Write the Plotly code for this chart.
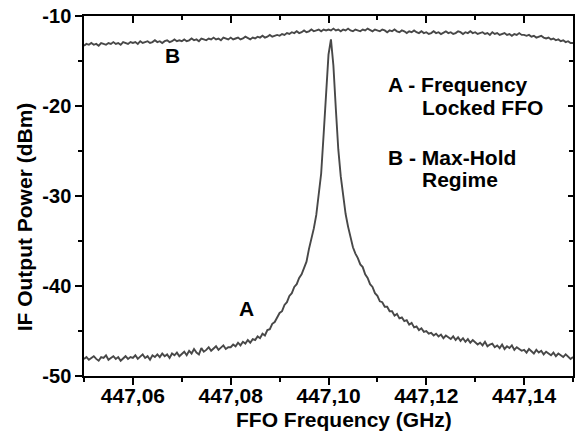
import plotly.graph_objects as go

# ---------------- data ----------------
freq_ghz = [
    447.0500, 447.0505, 447.0510, 447.0515, 447.0520, 447.0525, 447.0530, 447.0535, 447.0540, 447.0545,
    447.0550, 447.0555, 447.0560, 447.0565, 447.0570, 447.0575, 447.0580, 447.0585, 447.0590, 447.0595,
    447.0600, 447.0605, 447.0610, 447.0615, 447.0620, 447.0625, 447.0630, 447.0635, 447.0640, 447.0645,
    447.0650, 447.0655, 447.0660, 447.0665, 447.0670, 447.0675, 447.0680, 447.0685, 447.0690, 447.0695,
    447.0700, 447.0705, 447.0710, 447.0715, 447.0720, 447.0725, 447.0730, 447.0735, 447.0740, 447.0745,
    447.0750, 447.0755, 447.0760, 447.0765, 447.0770, 447.0775, 447.0780, 447.0785, 447.0790, 447.0795,
    447.0800, 447.0805, 447.0810, 447.0815, 447.0820, 447.0825, 447.0830, 447.0835, 447.0840, 447.0845,
    447.0850, 447.0855, 447.0860, 447.0865, 447.0870, 447.0875, 447.0880, 447.0885, 447.0890, 447.0895,
    447.0900, 447.0905, 447.0910, 447.0915, 447.0920, 447.0925, 447.0930, 447.0935, 447.0940, 447.0945,
    447.0950, 447.0955, 447.0960, 447.0965, 447.0970, 447.0975, 447.0980, 447.0985, 447.0990, 447.0995,
    447.1000, 447.1005, 447.1010, 447.1015, 447.1020, 447.1025, 447.1030, 447.1035, 447.1040, 447.1045,
    447.1050, 447.1055, 447.1060, 447.1065, 447.1070, 447.1075, 447.1080, 447.1085, 447.1090, 447.1095,
    447.1100, 447.1105, 447.1110, 447.1115, 447.1120, 447.1125, 447.1130, 447.1135, 447.1140, 447.1145,
    447.1150, 447.1155, 447.1160, 447.1165, 447.1170, 447.1175, 447.1180, 447.1185, 447.1190, 447.1195,
    447.1200, 447.1205, 447.1210, 447.1215, 447.1220, 447.1225, 447.1230, 447.1235, 447.1240, 447.1245,
    447.1250, 447.1255, 447.1260, 447.1265, 447.1270, 447.1275, 447.1280, 447.1285, 447.1290, 447.1295,
    447.1300, 447.1305, 447.1310, 447.1315, 447.1320, 447.1325, 447.1330, 447.1335, 447.1340, 447.1345,
    447.1350, 447.1355, 447.1360, 447.1365, 447.1370, 447.1375, 447.1380, 447.1385, 447.1390, 447.1395,
    447.1400, 447.1405, 447.1410, 447.1415, 447.1420, 447.1425, 447.1430, 447.1435, 447.1440, 447.1445,
    447.1450, 447.1455, 447.1460, 447.1465, 447.1470, 447.1475, 447.1480, 447.1485, 447.1490, 447.1495,
    447.1500,
]

# A - Frequency locked FFO
power_a_dbm = [
    -48.1, -47.9, -48.2, -48.0, -47.8, -48.1, -48.3, -47.9, -48.0, -47.7,
    -48.2, -48.0, -47.8, -48.1, -47.9, -48.3, -48.0, -47.8, -48.1, -47.9,
    -48.0, -47.7, -48.1, -47.9, -47.6, -48.0, -47.8, -48.2, -47.7, -47.9,
    -47.6, -47.9, -47.5, -47.8, -47.6, -48.0, -47.5, -47.7, -47.4, -47.8,
    -47.5, -47.3, -47.7, -47.2, -47.5, -47.0, -47.4, -47.6, -46.9, -47.3,
    -47.1, -46.8, -47.2, -47.0, -46.7, -47.1, -46.9, -46.6, -47.0, -46.8,
    -46.8, -46.5, -46.7, -46.3, -46.6, -46.2, -46.4, -46.0, -46.3, -45.9,
    -46.0, -45.6, -45.8, -45.3, -45.5, -44.9, -44.8, -44.2, -44.0, -43.4,
    -43.0, -42.8, -42.1, -41.8, -41.1, -40.8, -40.1, -39.8, -39.1, -38.7,
    -37.9, -37.3, -35.9, -34.9, -33.6, -32.1, -30.0, -27.5, -23.2, -18.5,
    -14.3, -12.6, -15.5, -20.3, -24.8, -27.8, -30.2, -32.0, -33.4, -34.6,
    -35.7, -36.4, -36.9, -37.6, -37.9, -38.7, -39.1, -39.8, -40.1, -40.8,
    -41.1, -41.7, -41.8, -42.3, -42.3, -42.8, -42.8, -43.3, -43.1, -43.6,
    -43.5, -43.9, -43.8, -44.3, -44.1, -44.6, -44.5, -44.9, -44.7, -45.1,
    -45.0, -45.3, -45.2, -45.5, -45.3, -45.6, -45.4, -45.8, -45.5, -45.7,
    -45.9, -45.6, -46.0, -45.7, -46.1, -45.8, -46.2, -45.9, -46.3, -46.0,
    -46.2, -46.5, -46.3, -46.6, -46.2, -46.7, -46.5, -46.4, -46.8, -46.6,
    -46.9, -46.5, -47.0, -46.7, -46.9, -46.6, -47.1, -46.8, -47.0, -47.2,
    -47.1, -47.4, -47.0, -47.3, -47.5, -47.1, -47.4, -47.2, -47.6, -47.3,
    -47.5, -47.7, -47.4, -47.8, -47.5, -47.7, -47.9, -47.6, -47.8, -48.1,
    -47.9,
]

# B - Max-hold regime
power_b_dbm = [
    -13.3, -13.1, -13.2, -13.0, -13.2, -13.1, -13.3, -13.0, -13.1, -13.2,
    -13.0, -13.1, -12.9, -13.1, -13.0, -13.2, -12.9, -13.0, -13.1, -12.9,
    -13.0, -12.9, -13.1, -12.8, -13.0, -12.9, -12.8, -13.0, -12.9, -12.7,
    -12.9, -12.8, -13.0, -12.8, -12.7, -12.9, -12.8, -12.6, -12.8, -12.7,
    -12.8, -12.6, -12.8, -12.7, -12.5, -12.7, -12.6, -12.8, -12.5, -12.6,
    -12.7, -12.5, -12.6, -12.4, -12.6, -12.5, -12.7, -12.4, -12.5, -12.6,
    -12.4, -12.6, -12.5, -12.4, -12.6, -12.5, -12.3, -12.5, -12.6, -12.4,
    -12.5, -12.3, -12.4, -12.2, -12.4, -12.3, -12.1, -12.3, -12.2, -12.1,
    -12.2, -12.0, -12.1, -11.9, -12.0, -11.8, -11.9, -11.7, -11.9, -11.8,
    -11.6, -11.8, -11.7, -11.5, -11.7, -11.6, -11.5, -11.7, -11.5, -11.6,
    -11.5, -11.6, -11.4, -11.6, -11.5, -11.7, -11.5, -11.6, -11.4, -11.6,
    -11.7, -11.5, -11.6, -11.7, -11.5, -11.6, -11.4, -11.6, -11.7, -11.5,
    -11.6, -11.7, -11.5, -11.6, -11.8, -11.6, -11.7, -11.5, -11.7, -11.8,
    -11.6, -11.7, -11.9, -11.7, -11.8, -11.6, -11.8, -11.9, -11.7, -11.9,
    -11.8, -12.0, -11.9, -11.7, -11.9, -11.8, -12.0, -11.8, -11.7, -11.9,
    -11.8, -12.0, -11.9, -11.7, -11.8, -12.0, -11.8, -11.9, -11.7, -11.9,
    -11.8, -12.0, -11.9, -11.8, -12.0, -11.9, -12.1, -11.8, -12.0, -11.9,
    -12.1, -12.0, -11.9, -12.1, -12.0, -12.2, -12.0, -12.1, -11.9, -12.1,
    -12.1, -12.2, -12.1, -12.3, -12.2, -12.4, -12.3, -12.2, -12.4, -12.5,
    -12.4, -12.6, -12.5, -12.7, -12.6, -12.8, -12.7, -12.9, -12.8, -13.0,
    -13.0,
]

x_tick_vals = [447.06, 447.08, 447.10, 447.12, 447.14]
x_tick_text = ["447,06", "447,08", "447,10", "447,12", "447,14"]
y_tick_vals = [-50, -40, -30, -20, -10]
y_tick_text = ["-50", "-40", "-30", "-20", "-10"]

x_title = "FFO Frequency (GHz)"
y_title = "IF Output Power (dBm)"

# ---------------- figure ----------------
FONT = "Liberation Sans, Arial, Helvetica, sans-serif"
LINE_COLOR = "#484848"

fig = go.Figure()
fig.add_trace(go.Scatter(x=freq_ghz, y=power_b_dbm, mode="lines",
                         line=dict(color=LINE_COLOR, width=1.9), showlegend=False))
fig.add_trace(go.Scatter(x=freq_ghz, y=power_a_dbm, mode="lines",
                         line=dict(color=LINE_COLOR, width=1.9), showlegend=False))
# empty trace so the mirrored (top/right) tick axes are drawn
fig.add_trace(go.Scatter(x=[], y=[], xaxis="x2", yaxis="y2", showlegend=False))

xtickfont = dict(family=FONT, size=21, color="black", weight="bold")
ytickfont = dict(family=FONT, size=20, color="black", weight="bold")

fig.update_layout(
    width=579, height=442,
    margin=dict(l=84, r=6, t=16, b=66, autoexpand=False),
    paper_bgcolor="white", plot_bgcolor="white",
    showlegend=False,
    xaxis=dict(range=[447.05, 447.15], tickmode="array", tickvals=x_tick_vals, ticktext=x_tick_text,
               ticks="outside", ticklen=7, tickwidth=1.5, tickcolor="black",
               minor=dict(ticks="outside", ticklen=4, tickwidth=1.5, tickcolor="black",
                          tickmode="linear", tick0=447.05, dtick=0.01),
               showline=True, linecolor="black", linewidth=1.5, mirror=True,
               showgrid=False, zeroline=False, tickfont=xtickfont, ticklabelstandoff=-7),
    yaxis=dict(range=[-50, -10], tickmode="array", tickvals=y_tick_vals, ticktext=y_tick_text,
               ticks="outside", ticklen=7, tickwidth=1.5, tickcolor="black",
               minor=dict(ticks="outside", ticklen=4, tickwidth=1.5, tickcolor="black",
                          tickmode="linear", tick0=-50, dtick=5),
               showline=True, linecolor="black", linewidth=1.5, mirror=True,
               showgrid=False, zeroline=False, tickfont=ytickfont),
    xaxis2=dict(range=[447.05, 447.15], overlaying="x", side="top", anchor="y",
                tickmode="array", tickvals=x_tick_vals, showticklabels=False,
                ticks="inside", ticklen=7, tickwidth=1.5, tickcolor="black",
                minor=dict(ticks="inside", ticklen=4, tickwidth=1.5, tickcolor="black",
                           tickmode="linear", tick0=447.05, dtick=0.01),
                showline=False, showgrid=False, zeroline=False),
    yaxis2=dict(range=[-50, -10], overlaying="y", side="right", anchor="x",
                tickmode="array", tickvals=y_tick_vals, showticklabels=False,
                ticks="inside", ticklen=5, tickwidth=1.5, tickcolor="black",
                minor=dict(ticks="inside", ticklen=4, tickwidth=1.5, tickcolor="black",
                           tickmode="linear", tick0=-50, dtick=5),
                showline=False, showgrid=False, zeroline=False),
)

def label(text, x, y, xanchor="center", angle=0, size=21):
    fig.add_annotation(text=text, x=x, y=y, xref="paper", yref="paper",
                       xanchor=xanchor, yanchor="middle", showarrow=False, textangle=angle,
                       font=dict(family=FONT, size=size, color="black", weight="bold"))

label(x_title, 0.5317, -0.121)
label(y_title, -0.121, 0.443, angle=-90)
label("B", 0.182, 0.8903)
label("A", 0.3333, 0.1875)
label("A - Frequency", 0.6176, 0.8097, xanchor="left")
label("Locked FFO", 0.6871, 0.7458, xanchor="left")
label("B - Max-Hold", 0.6176, 0.6069, xanchor="left")
label("Regime", 0.6871, 0.5458, xanchor="left")

fig.write_html("out.html", config={"displayModeBar": False},
               post_script="document.body.style.margin='0px';")
